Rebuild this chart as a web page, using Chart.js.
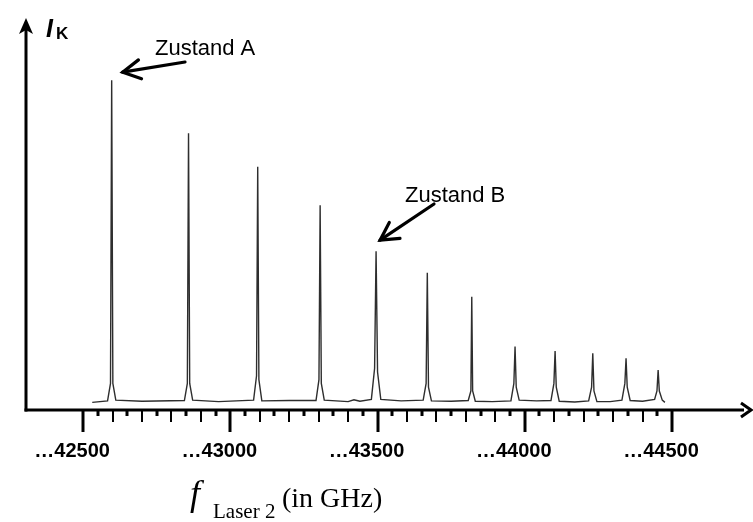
<!DOCTYPE html>
<html>
<head>
<meta charset="utf-8">
<script src="https://cdn.jsdelivr.net/npm/chart.js@4.4.1/dist/chart.umd.min.js"></script>
<style>
  html, body { margin: 0; padding: 0; background: #fff; }
  canvas { display: block; }
</style>
</head>
<body>
<canvas id="spec" width="753" height="522"></canvas>
<script>
// spectrum trace (frequency in GHz, intensity in arbitrary units 0..100)
var traceGHz = [
  42531, 42583, 42593, 42597, 42601, 42611, 42700,
  42844, 42854, 42858, 42862, 42872, 42960,
  43079, 43089, 43093, 43097, 43107, 43200,
  43291, 43301, 43305, 43309, 43319, 43400, 43420, 43440,
  43479, 43490, 43495, 43500, 43511, 43580,
  43655, 43665, 43669, 43673, 43683, 43750,
  43808, 43817, 43820, 43823, 43832, 43890,
  43953, 43963, 43967, 43971, 43981, 44040,
  44089, 44099, 44103, 44107, 44117, 44170,
  44217, 44227, 44231, 44235, 44245, 44290,
  44330, 44340, 44344, 44348, 44358, 44400,
  44441, 44449, 44453, 44457, 44467, 44476
];
var traceI = [
  2.0, 2.4, 7, 86.8, 7, 2.6, 2.3,
  2.5, 7, 72.8, 7, 2.6, 2.2,
  2.6, 9, 64.0, 8, 2.4, 2.5,
  2.5, 8, 53.9, 7, 2.6, 2.2, 2.7, 2.3,
  2.8, 11, 41.8, 10, 2.8, 2.4,
  2.6, 7, 36.1, 6, 2.4, 2.3,
  2.5, 5, 29.8, 5, 2.3, 2.2,
  2.4, 7, 16.7, 6, 2.6, 2.4,
  2.5, 7, 15.5, 6, 2.3, 2.1,
  2.4, 6, 14.9, 5, 2.2, 2.2,
  2.6, 7, 13.6, 6, 2.5, 2.3,
  2.8, 5, 10.5, 5, 2.6, 2.0
];

var majorTicks = [42500, 43000, 43500, 44000, 44500];
var tickLabels = ['…42500', '…43000', '…43500', '…44000', '…44500'];
var minorStep = 50;

// annotated peaks
var stateNames = ['Zustand A', 'Zustand B'];
var statePeakGHz = [42597, 43495];
var statePeakI = [86.8, 41.8];

var points = traceGHz.map(function(f, i) { return { x: f, y: traceI[i] }; });

function arrow(ctx, x1, y1, x2, y2, head) {
  var a = Math.atan2(y2 - y1, x2 - x1);
  ctx.beginPath();
  ctx.moveTo(x1, y1);
  ctx.lineTo(x2, y2);
  ctx.stroke();
  ctx.beginPath();
  ctx.moveTo(x2 - head * Math.cos(a - 0.5), y2 - head * Math.sin(a - 0.5));
  ctx.lineTo(x2, y2);
  ctx.lineTo(x2 - head * Math.cos(a + 0.5), y2 - head * Math.sin(a + 0.5));
  ctx.stroke();
}

var axesPlugin = {
  id: 'axesPlugin',
  afterDraw: function(chart) {
    var ctx = chart.ctx;
    var xs = chart.scales.x, ys = chart.scales.y;
    var ca = chart.chartArea;
    var y0 = ys.getPixelForValue(0);
    ctx.save();
    ctx.strokeStyle = '#000';
    ctx.fillStyle = '#000';
    ctx.lineCap = 'butt';

    // axes lines
    ctx.lineWidth = 3;
    ctx.beginPath();
    ctx.moveTo(ca.left, y0 + 1.5);
    ctx.lineTo(ca.left, 26);
    ctx.stroke();
    ctx.beginPath();
    ctx.moveTo(ca.left - 1.5, y0);
    ctx.lineTo(744, y0);
    ctx.stroke();
    // arrow heads
    ctx.beginPath();
    ctx.moveTo(ca.left, 18);
    ctx.lineTo(ca.left - 7, 34);
    ctx.lineTo(ca.left, 30);
    ctx.lineTo(ca.left + 7, 34);
    ctx.closePath();
    ctx.fill();
    ctx.lineWidth = 3;
    ctx.beginPath();
    ctx.moveTo(741, y0 - 7);
    ctx.lineTo(751, y0);
    ctx.lineTo(741, y0 + 7);
    ctx.stroke();

    // tick marks
    for (var v = majorTicks[0]; v <= majorTicks[majorTicks.length - 1]; v += minorStep) {
      var px = Math.round(xs.getPixelForValue(v));
      var len, w;
      if (v % 500 === 0) { len = 22; w = 3; }
      else if (v % 100 === 0) { len = 12; w = 2; }
      else { len = 6; w = 3; }
      ctx.lineWidth = w;
      ctx.beginPath();
      ctx.moveTo(px, y0);
      ctx.lineTo(px, y0 + len);
      ctx.stroke();
    }

    // tick labels
    ctx.font = 'bold 20px "Liberation Sans", Arial, sans-serif';
    ctx.textAlign = 'center';
    ctx.textBaseline = 'alphabetic';
    majorTicks.forEach(function(t, i) {
      ctx.fillText(tickLabels[i], xs.getPixelForValue(t) - 11, 457);
    });

    // y axis label I_K
    ctx.textAlign = 'left';
    ctx.font = 'italic bold 25px "Liberation Sans", Arial, sans-serif';
    ctx.fillText('I', 46, 37);
    ctx.font = 'bold 17px "Liberation Sans", Arial, sans-serif';
    ctx.fillText('K', 56, 39);

    // x axis title
    ctx.font = 'italic 36px "Liberation Serif", "Times New Roman", serif';
    ctx.fillText('f', 190, 505);
    ctx.font = '21px "Liberation Serif", "Times New Roman", serif';
    ctx.fillText('Laser 2', 213, 518);
    ctx.font = '28px "Liberation Serif", "Times New Roman", serif';
    ctx.fillText('(in GHz)', 282, 507);

    // state annotations
    ctx.font = '22px "Liberation Sans", Arial, sans-serif';
    ctx.fillText(stateNames[0], 155, 55);
    ctx.fillText(stateNames[1], 405, 202);
    ctx.lineWidth = 3.2;
    ctx.lineCap = 'round';
    var ax = xs.getPixelForValue(statePeakGHz[0]), ay = ys.getPixelForValue(statePeakI[0]);
    arrow(ctx, 185, 62, ax + 11, ay - 8, 20);
    var bx = xs.getPixelForValue(statePeakGHz[1]), by = ys.getPixelForValue(statePeakI[1]);
    arrow(ctx, 434, 204, bx + 4, by - 11, 20);
    ctx.restore();
  }
};

new Chart(document.getElementById('spec').getContext('2d'), {
  type: 'line',
  data: {
    datasets: [{
      data: points,
      borderColor: '#2e2e2e',
      borderWidth: 1.4,
      pointRadius: 0,
      tension: 0,
      fill: false
    }]
  },
  options: {
    responsive: false,
    animation: false,
    layout: { padding: { left: 26, right: 8, top: 30, bottom: 112 } },
    plugins: { legend: { display: false }, tooltip: { enabled: false } },
    scales: {
      x: { type: 'linear', min: 42306, max: 44748, display: false },
      y: { min: 0, max: 100, display: false }
    }
  },
  plugins: [axesPlugin]
});
</script>
</body>
</html>
